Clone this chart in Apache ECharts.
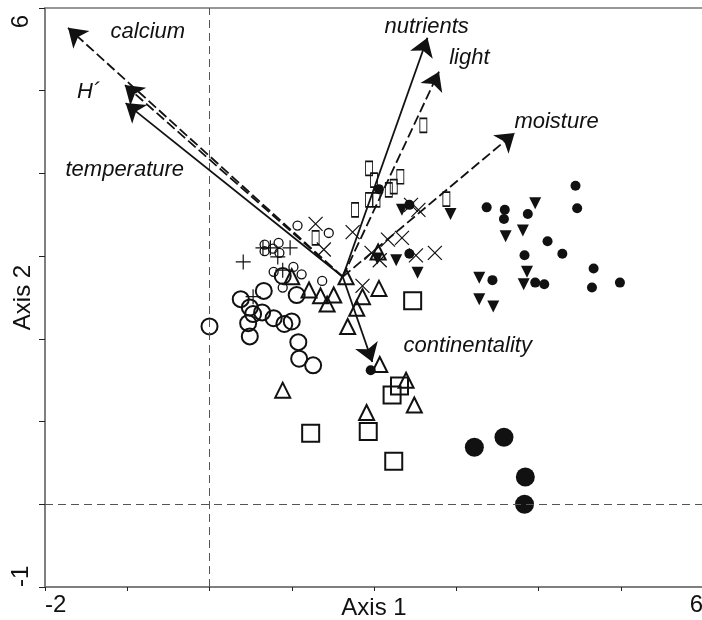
<!DOCTYPE html>
<html>
<head>
<meta charset="utf-8">
<script src="https://cdn.jsdelivr.net/npm/echarts@6/dist/echarts.min.js"></script>
<style>
  html, body { margin: 0; padding: 0; background: #fff; }
  #chart { width: 702px; height: 620px; }
</style>
</head>
<body>
<div id="chart"></div>
<script>
// axis ends
const xRange = [-2, 6];
const yRange = [-1, 6];

// environmental vectors (start point, tips)
const arrowOrigin = [1.62, 2.75];
const arrowNames = ['calcium', 'H´', 'temperature', 'nutrients', 'light', 'moisture', 'continentality'];
const arrowTips = [[-1.72, 5.76], [-1.03, 5.07], [-1.02, 4.85], [2.65, 5.64], [2.79, 5.23], [3.71, 4.49], [1.98, 1.72]];
const arrowDashed = [true, true, false, false, true, true, false];
const arrowLabelAt = [[-0.75, 5.71], [-1.47, 4.98], [-1.03, 4.04], [2.64, 5.77], [3.16, 5.40], [4.22, 4.62], [3.14, 1.92]];

// sample scores, one array per group
const bigOpenCircles = [[0.00, 2.15], [0.38, 2.48], [0.66, 2.58], [0.49, 2.38], [0.64, 2.32], [0.47, 2.19], [0.78, 2.25], [0.91, 2.18], [1.00, 2.21], [0.49, 2.03], [1.08, 1.96], [1.09, 1.76], [1.26, 1.68], [1.06, 2.53], [0.89, 2.76], [0.53, 2.30]];
const smallOpenCircles = [[1.07, 3.37], [1.45, 3.28], [0.84, 3.16], [0.67, 3.06], [0.77, 3.09], [1.02, 2.87], [1.12, 2.78], [0.78, 2.81], [0.89, 2.62], [1.37, 2.70], [0.67, 3.14], [0.85, 3.04]];
const plusMarks = [[0.41, 2.93], [0.65, 3.10], [0.74, 3.10], [0.83, 2.99], [0.98, 3.10], [0.53, 2.51], [0.89, 2.83]];
const crossMarks = [[1.29, 3.39], [1.39, 3.08], [1.74, 3.29], [1.86, 2.64], [1.97, 3.04], [2.07, 2.95], [2.17, 3.20], [2.34, 3.22], [2.45, 3.62], [2.54, 3.56], [2.51, 3.01], [2.74, 3.04]];
const openTriangles = [[1.00, 2.75], [1.21, 2.59], [1.35, 2.52], [1.51, 2.53], [1.43, 2.42], [1.66, 2.75], [1.86, 2.51], [2.06, 2.61], [1.79, 2.37], [1.68, 2.15], [2.07, 1.69], [2.05, 3.05], [0.89, 1.38], [2.39, 1.50], [2.49, 1.20], [1.91, 1.11]];
const openSquares = [[2.47, 2.46], [2.31, 1.43], [2.22, 1.32], [1.23, 0.86], [1.93, 0.88], [2.24, 0.52]];
const bigDots = [[3.22, 0.69], [3.58, 0.81], [3.84, 0.33], [3.83, 0.00]];
const smallDots = [[3.37, 3.59], [3.59, 3.56], [3.58, 3.45], [3.87, 3.51], [4.45, 3.85], [4.47, 3.58], [4.11, 3.18], [4.29, 3.03], [3.83, 3.01], [4.67, 2.85], [4.65, 2.62], [4.99, 2.68], [3.44, 2.71], [3.96, 2.68], [4.07, 2.66], [2.43, 3.62], [2.43, 3.03], [2.06, 3.81], [1.96, 1.62]];
const downTriangles = [[3.96, 3.64], [3.60, 3.24], [3.81, 3.31], [2.93, 3.51], [2.34, 3.56], [2.53, 2.80], [3.28, 2.74], [3.86, 2.81], [3.82, 2.66], [3.28, 2.48], [3.45, 2.39], [2.04, 2.97], [2.27, 2.95]];
const tallBoxes = [[2.60, 4.58], [1.94, 4.06], [2.00, 3.92], [2.32, 3.96], [2.24, 3.84], [2.18, 3.80], [1.94, 3.68], [2.03, 3.68], [1.77, 3.56], [2.88, 3.69], [1.29, 3.22]];

const FONT = 'Liberation Sans, Arial, sans-serif';
const INK = '#111';

function hollow(name, data, symbol, size, bw) {
  return {
    name: name, type: 'scatter', data: data, symbol: symbol, symbolSize: size,
    itemStyle: { color: 'rgba(0,0,0,0)', borderColor: INK, borderWidth: bw, opacity: 1 },
    z: 3
  };
}
function filled(name, data, symbol, size) {
  return {
    name: name, type: 'scatter', data: data, symbol: symbol, symbolSize: size,
    itemStyle: { color: INK, borderWidth: 0, opacity: 1 },
    z: 3
  };
}

const chart = echarts.init(document.getElementById('chart'));

const option = {
  animation: false,
  backgroundColor: '#fff',
  grid: {
    left: 45, right: -1, top: 8, bottom: 33,
    outerBoundsMode: 'none', containLabel: false,
    show: true, borderColor: '#777', borderWidth: 1.5
  },
  xAxis: {
    type: 'value', min: xRange[0], max: xRange[1], interval: 1,
    name: 'Axis 1', nameLocation: 'middle', nameGap: 9, nameMoveOverlap: false,
    nameTextStyle: { fontFamily: FONT, fontSize: 24, color: INK, verticalAlign: 'top' },
    axisLine: { show: true, onZero: false, lineStyle: { color: '#777', width: 1.5 } },
    axisTick: { show: true, length: 4, lineStyle: { color: '#222' } },
    splitLine: { show: false },
    axisLabel: {
      fontFamily: FONT, fontSize: 24, color: INK, margin: 6,
      alignMinLabel: 'left', alignMaxLabel: 'right',
      formatter: function (v) { return (v === xRange[0] || v === xRange[1]) ? String(v) : ''; }
    }
  },
  yAxis: {
    type: 'value', min: yRange[0], max: yRange[1], interval: 1,
    name: 'Axis 2', nameLocation: 'middle', nameGap: 10, nameRotate: 90, nameMoveOverlap: false,
    nameTextStyle: { fontFamily: FONT, fontSize: 24, color: INK },
    axisLine: { show: true, onZero: false, lineStyle: { color: '#777', width: 1.5 } },
    axisTick: { show: true, length: 6, lineStyle: { color: '#222' } },
    splitLine: { show: false },
    axisLabel: {
      fontFamily: FONT, fontSize: 24, color: INK, rotate: 90, margin: 12,
      padding: [0, 7, 0, 0],
      alignMinLabel: 'left', alignMaxLabel: 'right',
      formatter: function (v) { return (v === yRange[0] || v === yRange[1]) ? String(v) : ''; }
    }
  },
  series: [
    {
      name: 'zero', type: 'scatter', data: [], z: 1,
      markLine: {
        silent: true, symbol: 'none', label: { show: false },
        lineStyle: { color: '#555', width: 1, type: [8, 5], opacity: 1 },
        data: [{ xAxis: 0 }, { yAxis: 0 }]
      }
    },
    hollow('big open circles', bigOpenCircles, 'circle', 16, 2),
    hollow('small open circles', smallOpenCircles, 'circle', 9, 1.3),
    hollow('plus', plusMarks, 'path://M0,5L10,5M5,0L5,10', 15, 1.2),
    hollow('cross', crossMarks, 'path://M0,0L10,10M10,0L0,10', 14, 1.2),
    hollow('open triangles', openTriangles, 'triangle', 15, 2),
    hollow('open squares', openSquares, 'rect', 17, 2),
    hollow('tall boxes', tallBoxes, 'rect', [7, 14], 1.2),
    filled('big dots', bigDots, 'circle', 19),
    filled('small dots', smallDots, 'circle', 10),
    filled('down triangles', downTriangles, 'path://M0,0L10,0L5,9Z', 12),
    {
      name: 'vectors', type: 'lines', coordinateSystem: 'cartesian2d', z: 5,
      symbol: ['none', 'arrow'], symbolSize: [11, 18],
      itemStyle: { color: INK, opacity: 1 },
      data: arrowTips.map(function (tip, i) {
        return {
          coords: [arrowOrigin, tip],
          lineStyle: { color: INK, width: 1.8, opacity: 1, type: arrowDashed[i] ? [10, 4] : 'solid' }
        };
      })
    },
    {
      name: 'vector labels', type: 'scatter', symbolSize: 0, z: 6,
      itemStyle: { opacity: 1 },
      data: arrowLabelAt.map(function (p, i) { return { value: p, name: arrowNames[i] }; }),
      label: {
        show: true, position: 'inside', formatter: '{b}',
        fontFamily: FONT, fontStyle: 'italic', fontSize: 22, color: INK
      }
    }
  ]
};

chart.setOption(option);
</script>
</body>
</html>
